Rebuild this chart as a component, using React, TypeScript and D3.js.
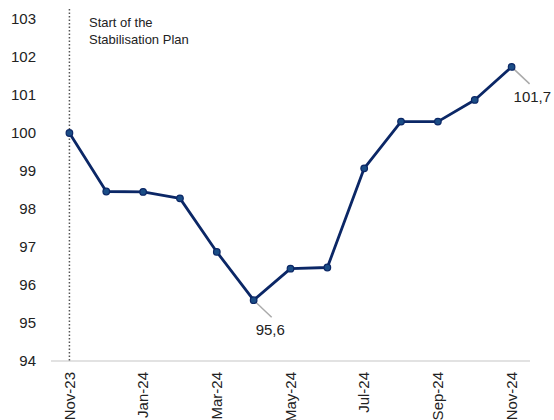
import React from "react";
import * as d3 from "d3";

const months = ["Nov-23","Dec-23","Jan-24","Feb-24","Mar-24","Apr-24","May-24","Jun-24","Jul-24","Aug-24","Sep-24","Oct-24","Nov-24"];
const values = [100, 98.46, 98.45, 98.28, 96.87, 95.6, 96.43, 96.46, 99.07, 100.3, 100.3, 100.87, 101.74];
const xTickLabels = ["Nov-23","Jan-24","Mar-24","May-24","Jul-24","Sep-24","Nov-24"];
const yTicks = [94, 95, 96, 97, 98, 99, 100, 101, 102, 103];
const annotationLines = ["Start of the", "Stabilisation Plan"];
const dataLabels = [
  { month: "Apr-24", text: "95,6" },
  { month: "Nov-24", text: "101,7" },
];

const W = 554, H = 420;
const FONT = "'Liberation Sans', Arial, sans-serif";

export default function App() {
  const x = d3.scalePoint<string>().domain(months).range([51, 530]).padding(0.5);
  const y = d3.scaleLinear().domain([94, 103]).range([361, 19]);
  const line = d3.line<number>().x((_, i) => x(months[i])!).y((d) => y(d));
  const startX = x(months[0])!;

  return (
    <div style={{ position: "absolute", left: 0, top: 0 }}>
      <svg width={W} height={H} style={{ display: "block", background: "#fff" }} fontFamily={FONT}>
        {/* y tick labels */}
        {yTicks.map((t) => (
          <text key={t} x={36} y={y(t)} dy="0.35em" textAnchor="end" fontSize={15} fill="#222">
            {t}
          </text>
        ))}
        {/* x axis line */}
        <line x1={51} x2={530} y1={y(94)} y2={y(94)} stroke="#d9d9d9" strokeWidth={1.5} />
        {/* x tick labels */}
        {xTickLabels.map((m) => (
          <text
            key={m}
            transform={`translate(${x(m)},${y(94) + 11}) rotate(-90)`}
            dy="0.35em"
            textAnchor="end"
            fontSize={15}
            fill="#222"
          >
            {m}
          </text>
        ))}
        {/* start marker */}
        <line x1={startX} x2={startX} y1={9} y2={y(94)} stroke="#555" strokeWidth={1.5} strokeDasharray="1.5,2" />
        {annotationLines.map((t, i) => (
          <text key={t} x={89} y={27 + i * 17} fontSize={13} fill="#222">
            {t}
          </text>
        ))}
        {/* leader lines + labels */}
        {dataLabels.map((d) => {
          const i = months.indexOf(d.month);
          const px = x(d.month)!;
          const py = y(values[i]);
          return (
            <g key={d.month}>
              <line x1={px} y1={py} x2={px + 18} y2={py + 17} stroke="#aaa" strokeWidth={1.5} />
              <text x={px + 2} y={py + 35} fontSize={15} fill="#222">
                {d.text}
              </text>
            </g>
          );
        })}
        {/* series line */}
        <path d={line(values) || ""} fill="none" stroke="#0b2766" strokeWidth={2.8} strokeLinejoin="round" />
        {values.map((v, i) => (
          <circle key={i} cx={x(months[i])!} cy={y(v)} r={3.3} fill="#1b4d86" stroke="#0b2766" strokeWidth={1.2} />
        ))}
      </svg>
    </div>
  );
}
